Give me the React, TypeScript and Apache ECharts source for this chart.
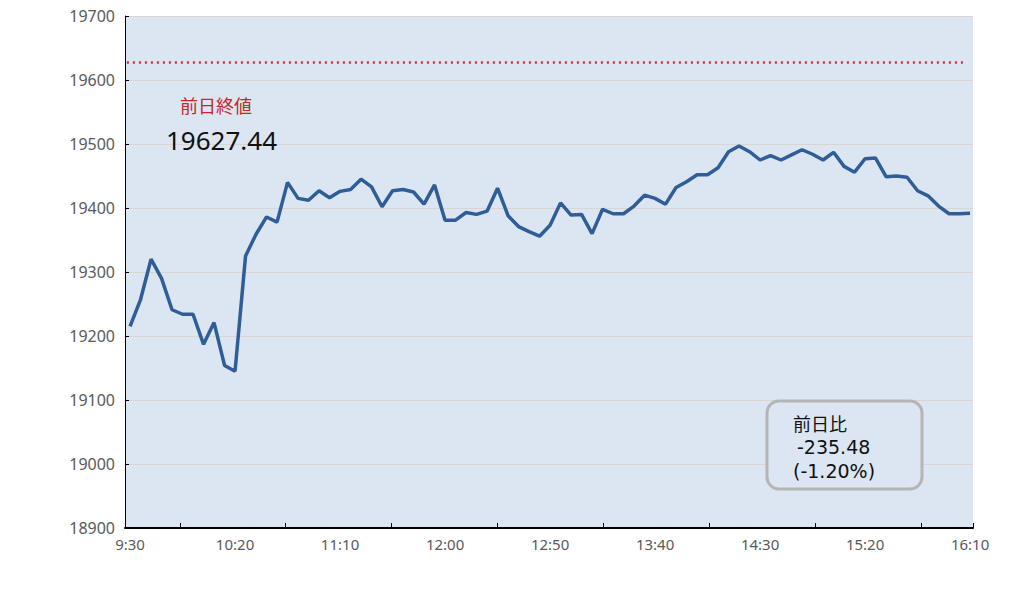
import React, { useEffect, useRef } from "react";
import * as echarts from "echarts";

const times: string[] = [
  "9:30","9:35","9:40","9:45","9:50","9:55","10:00","10:05","10:10","10:15",
  "10:20","10:25","10:30","10:35","10:40","10:45","10:50","10:55","11:00","11:05",
  "11:10","11:15","11:20","11:25","11:30","11:35","11:40","11:45","11:50","11:55",
  "12:00","12:05","12:10","12:15","12:20","12:25","12:30","12:35","12:40","12:45",
  "12:50","12:55","13:00","13:05","13:10","13:15","13:20","13:25","13:30","13:35",
  "13:40","13:45","13:50","13:55","14:00","14:05","14:10","14:15","14:20","14:25",
  "14:30","14:35","14:40","14:45","14:50","14:55","15:00","15:05","15:10","15:15",
  "15:20","15:25","15:30","15:35","15:40","15:45","15:50","15:55","16:00","16:05",
  "16:10",
];

const prices: number[] = [
  19215, 19257, 19320, 19290, 19241, 19234, 19234, 19187, 19221, 19154,
  19145, 19325, 19359, 19386, 19378, 19440, 19415, 19412, 19427, 19416,
  19426, 19429, 19445, 19433, 19402, 19427, 19429, 19425, 19406, 19436,
  19381, 19381, 19393, 19390, 19395, 19431, 19388, 19371, 19363, 19356,
  19373, 19408, 19389, 19390, 19360, 19398, 19391, 19391, 19403, 19420,
  19415, 19406, 19432, 19441, 19452, 19452, 19463, 19488, 19497, 19488,
  19475, 19482, 19475, 19483, 19491, 19484, 19475, 19487, 19465, 19456,
  19477, 19478, 19449, 19450, 19448, 19427, 19419, 19403, 19391, 19391,
  19391.96,
];

const prevClose = 19627.44;
const prevCloseLabel = "前日終値";
const changeLabel = "前日比";
const changeValue = "-235.48";
const changePct = "(-1.20%)";

const xLabelMinutes: number[] = [0, 50, 100, 150, 200, 250, 300, 350, 400];
const xTickMinutes: number[] = [23.8, 73.8, 124.3, 174.8, 225.2, 275.7, 326.2, 376.7, 401.4];
const refLineRange: number[] = [-1.5, 397.6];

const toMin = (t: string) => {
  const [h, m] = t.split(":").map(Number);
  return h * 60 + m - (9 * 60 + 30);
};
const fmt = (v: number) => {
  const total = Math.round(v) + 9 * 60 + 30;
  const h = Math.floor(total / 60);
  const m = total % 60;
  return `${h}:${m < 10 ? "0" + m : m}`;
};

export default function App() {
  const ref = useRef<HTMLDivElement>(null);
  useEffect(() => {
    if (!ref.current) return;
    const chart = echarts.init(ref.current, undefined, { renderer: "svg" });
    const font = "'Noto Sans', 'Noto Sans CJK JP', sans-serif";
    const boxFont = "'DejaVu Sans', 'Noto Sans CJK JP', sans-serif";
    chart.setOption({
      animation: false,
      backgroundColor: "#ffffff",
      grid: {
        left: 125,
        right: 62,
        top: 16,
        bottom: 69,
        show: true,
        backgroundColor: "#dce6f2",
        borderWidth: 0,
      },
      xAxis: {
        type: "value",
        min: -2.4,
        max: 401.4,
        splitLine: { show: false },
        axisLine: { show: true, onZero: false, lineStyle: { color: "#000000", width: 2 } },
        axisTick: {
          show: true,
          inside: true,
          length: 5,
          customValues: xTickMinutes,
          lineStyle: { color: "#000000", width: 1 },
        },
        axisLabel: {
          customValues: xLabelMinutes,
          formatter: (v: number) => fmt(v),
          color: "#595959",
          fontSize: 15,
          fontFamily: font,
          margin: 8,
        },
      },
      yAxis: {
        type: "value",
        min: 18900,
        max: 19700,
        interval: 100,
        axisLine: { show: true, onZero: false, lineStyle: { color: "#000000", width: 1 } },
        axisTick: { show: true, inside: true, length: 4, lineStyle: { color: "#000000" } },
        axisLabel: {
          color: "#595959",
          fontSize: 16,
          fontFamily: font,
          margin: 10,
          formatter: (v: number) => String(v),
        },
        splitLine: { show: true, lineStyle: { color: "#d9d5d0", width: 1 } },
      },
      series: [
        {
          type: "line",
          data: times.map((t, i) => [toMin(t), prices[i]]),
          showSymbol: false,
          symbol: "none",
          lineStyle: { color: "#2f5d97", width: 3.5 },
          z: 3,
          markLine: {
            silent: true,
            symbol: ["none", "none"],
            label: { show: false },
            lineStyle: { color: "#d03030", type: [2, 4], width: 2.5 },
            data: [
              [
                { coord: [refLineRange[0], prevClose] },
                { coord: [refLineRange[1], prevClose] },
              ],
            ],
          },
        },
      ],
      graphic: [
        {
          type: "text",
          left: 180,
          top: 97,
          z: 20,
          style: { text: prevCloseLabel, fill: "#c0282d", fontSize: 18, fontFamily: font },
        },
        {
          type: "text",
          left: 166,
          top: 127,
          z: 20,
          style: { text: prevClose.toFixed(2), fill: "#111111", fontSize: 26, fontFamily: font },
        },
        {
          type: "rect",
          shape: { x: 767, y: 401, width: 155, height: 88, r: 12 },
          style: { fill: "#dce6f2", stroke: "#b5b5b5", lineWidth: 3 },
          z: 10,
        },
        {
          type: "text",
          x: 793,
          y: 424,
          z: 11,
          style: {
            text: changeLabel,
            fill: "#111111",
            fontSize: 18,
            lineHeight: 18,
            fontFamily: font,
            verticalAlign: "middle",
          },
        },
        {
          type: "text",
          x: 797,
          y: 447,
          z: 11,
          style: {
            text: changeValue,
            fill: "#111111",
            fontSize: 19,
            lineHeight: 19,
            fontFamily: boxFont,
            verticalAlign: "middle",
          },
        },
        {
          type: "text",
          x: 793,
          y: 470.5,
          z: 11,
          style: {
            text: changePct,
            fill: "#111111",
            fontSize: 19,
            lineHeight: 19,
            fontFamily: boxFont,
            verticalAlign: "middle",
          },
        },
      ],
    });
    return () => chart.dispose();
  }, []);
  return (
    <div
      ref={ref}
      style={{ position: "fixed", left: 0, top: 0, width: 1035, height: 597 }}
    />
  );
}
